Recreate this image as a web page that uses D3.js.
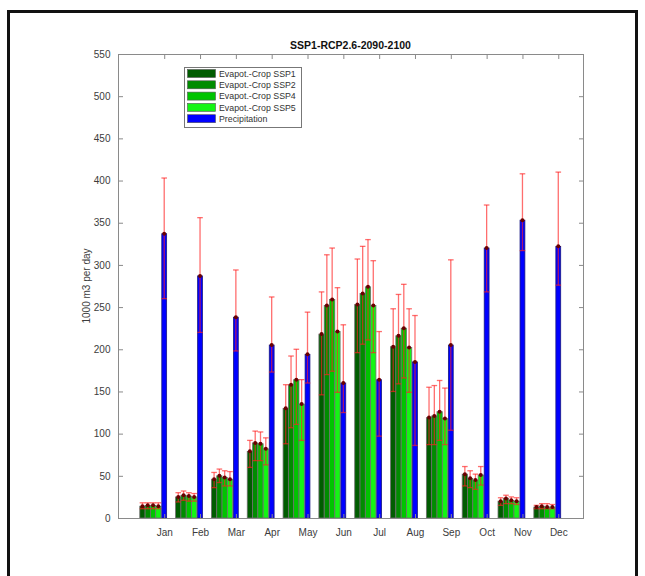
<!DOCTYPE html>
<html>
<head>
<meta charset="utf-8">
<script src="https://cdn.jsdelivr.net/npm/d3@7"></script>
<style>
  html, body { margin: 0; padding: 0; background: #fff; }
  svg { display: block; font-family: "Liberation Sans", Arial, sans-serif; }
</style>
</head>
<body>
<svg id="chart" width="645" height="576"></svg>
<script>
// ---------- data ----------
const months = ["Jan","Feb","Mar","Apr","May","Jun","Jul","Aug","Sep","Oct","Nov","Dec"];
const seriesNames = ["Evapot.-Crop SSP1","Evapot.-Crop SSP2","Evapot.-Crop SSP4","Evapot.-Crop SSP5","Precipitation"];

const ssp1   = [14, 25, 46, 79, 130, 218, 253, 203, 119, 52, 20, 13];
const ssp2   = [15, 27, 50, 89, 158, 252, 266, 216, 121, 47, 23, 14];
const ssp4   = [15, 26, 48, 88, 164, 259, 274, 225, 126, 45, 21, 13];
const ssp5   = [14, 25, 46, 82, 135, 221, 252, 202, 118, 51, 20, 13];
const precip = [337, 287, 238, 205, 194, 160, 164, 185, 205, 320, 353, 322];

const ssp1Hi   = [18, 30, 54, 92, 158, 268, 307, 248, 155, 61, 24, 15];
const ssp2Hi   = [18, 32, 58, 103, 192, 312, 322, 265, 157, 56, 27, 17];
const ssp4Hi   = [18, 30, 56, 102, 200, 320, 330, 277, 163, 52, 25, 17];
const ssp5Hi   = [18, 29, 55, 95, 164, 273, 305, 248, 154, 61, 24, 16];
const precipHi = [403, 356, 294, 262, 244, 229, 221, 240, 306, 371, 408, 410];

const ssp1Lo   = [11, 19, 36, 60, 88, 146, 196, 150, 87, 38, 15, 11];
const ssp2Lo   = [11, 21, 42, 68, 107, 170, 206, 159, 87, 36, 17, 11];
const ssp4Lo   = [11, 20, 38, 68, 111, 174, 211, 166, 92, 34, 17, 11];
const ssp5Lo   = [11, 20, 38, 63, 92, 149, 196, 149, 87, 39, 16, 11];
const precipLo = [260, 220, 198, 173, 160, 125, 97, 86, 104, 268, 317, 276];

const yTicks = [0, 50, 100, 150, 200, 250, 300, 350, 400, 450, 500, 550];
const title = "SSP1-RCP2.6-2090-2100";
const yLabel = "1000 m3 per day";

// ---------- styles / layout ----------
const colors = ["#005c00", "#008c00", "#00c400", "#14f514", "#0000ff"];
const plot = { left: 118, right: 583, top: 54, bottom: 518 };
const greenW = 0.148, blueW = 0.135, greenEndGap = 0.09;
// offsets (in month units) of each series relative to the month tick
const offsets = [0, 1, 2, 3].map(i => -(greenEndGap + greenW / 2 + (3 - i) * greenW)).concat([0]);
const widths = [greenW, greenW, greenW, greenW, blueW];

const values = [ssp1, ssp2, ssp4, ssp5, precip];
const his = [ssp1Hi, ssp2Hi, ssp4Hi, ssp5Hi, precipHi];
const los = [ssp1Lo, ssp2Lo, ssp4Lo, ssp5Lo, precipLo];

const svg = d3.select("#chart");

// outer frame
svg.append("rect").attr("x", 8.5).attr("y", 11.5).attr("width", 628).attr("height", 600)
  .attr("fill", "none").attr("stroke", "#111").attr("stroke-width", 3);

const x = d3.scaleLinear().domain([-0.29, 12.69]).range([plot.left, plot.right]);
const y = d3.scaleLinear().domain([0, 550]).range([plot.bottom, plot.top]);

// bars
const g = svg.append("g");
values.forEach((vals, s) => {
  g.selectAll(null).data(vals).enter().append("rect")
    .attr("x", (d, i) => x(i + 1 + offsets[s] - widths[s] / 2))
    .attr("width", (d, i) => x(i + 1 + offsets[s] + widths[s] / 2) - x(i + 1 + offsets[s] - widths[s] / 2))
    .attr("y", d => y(d))
    .attr("height", d => y(0) - y(d))
    .attr("fill", colors[s])
    .attr("stroke", s === 4 ? "#1a1a80" : "#6e6e6e")
    .attr("stroke-width", 0.8);
});

// error bars
const capHalf = 2.8;
values.forEach((vals, s) => {
  const eg = g.append("g").attr("stroke", "#ff2020").attr("stroke-opacity", 0.65).attr("stroke-width", 1.3);
  vals.forEach((v, i) => {
    const cx = x(i + 1 + offsets[s]);
    const hi = y(his[s][i]), lo = y(los[s][i]);
    eg.append("line").attr("x1", cx).attr("x2", cx).attr("y1", hi).attr("y2", lo);
    eg.append("line").attr("x1", cx - capHalf).attr("x2", cx + capHalf).attr("y1", hi).attr("y2", hi);
    eg.append("line").attr("x1", cx - capHalf).attr("x2", cx + capHalf).attr("y1", lo).attr("y2", lo);
  });
  g.selectAll(null).data(vals).enter().append("circle")
    .attr("cx", (d, i) => x(i + 1 + offsets[s]))
    .attr("cy", d => y(d))
    .attr("r", 2)
    .attr("fill", "#6a0000");
});

// axes box
const axisColor = "#8a8a8a";
svg.append("rect").attr("x", plot.left + 0.5).attr("y", plot.top + 0.5)
  .attr("width", plot.right - plot.left).attr("height", plot.bottom - plot.top)
  .attr("fill", "none").attr("stroke", axisColor).attr("stroke-width", 1);

const monthPos = months.map((m, i) => i + 1);
const tickLen = 4.5;
const axL = svg.append("g").attr("transform", `translate(${plot.left + 0.5},0)`)
  .call(d3.axisLeft(y).tickValues(yTicks).tickSizeInner(-tickLen).tickSizeOuter(0).tickPadding(8));
const axR = svg.append("g").attr("transform", `translate(${plot.right + 0.5},0)`)
  .call(d3.axisRight(y).tickValues(yTicks).tickSizeInner(-tickLen).tickSizeOuter(0).tickFormat(""));
const axB = svg.append("g").attr("transform", `translate(0,${plot.bottom + 0.5})`)
  .call(d3.axisBottom(x).tickValues(monthPos).tickFormat((d) => months[d - 1]).tickSizeInner(-tickLen).tickSizeOuter(0).tickPadding(10));
const axT = svg.append("g").attr("transform", `translate(0,${plot.top + 0.5})`)
  .call(d3.axisTop(x).tickValues(monthPos).tickFormat("").tickSizeInner(-tickLen).tickSizeOuter(0));
[axL, axR, axB, axT].forEach(a => {
  a.select(".domain").remove();
  a.selectAll(".tick line").attr("stroke", axisColor);
  a.selectAll(".tick text").attr("fill", "#3c3c3c").attr("font-size", "10px")
    .attr("font-family", "'Liberation Sans', Arial, sans-serif");
});

// title
svg.append("text").attr("x", (plot.left + plot.right) / 2).attr("y", 49)
  .attr("text-anchor", "middle").attr("font-size", "10.5px").attr("font-weight", "bold")
  .attr("fill", "#111").text(title);

// y label
svg.append("text").attr("transform", `translate(90,${(plot.top + plot.bottom) / 2}) rotate(-90)`)
  .attr("text-anchor", "middle").attr("font-size", "10px").attr("fill", "#3c3c3c").text(yLabel);

// legend
const lg = svg.append("g");
lg.append("rect").attr("x", 184.5).attr("y", 67.5).attr("width", 117).attr("height", 60)
  .attr("fill", "#fff").attr("stroke", "#777").attr("stroke-width", 1);
seriesNames.forEach((name, i) => {
  const cy = 73.5 + i * 11.3;
  lg.append("rect").attr("x", 187.5).attr("y", cy - 4).attr("width", 28).attr("height", 8)
    .attr("fill", colors[i]).attr("stroke", "#555").attr("stroke-width", 0.6);
  lg.append("text").attr("x", 219).attr("y", cy + 3.2).attr("font-size", "8.8px")
    .attr("fill", "#333").text(name);
});
</script>
</body>
</html>
